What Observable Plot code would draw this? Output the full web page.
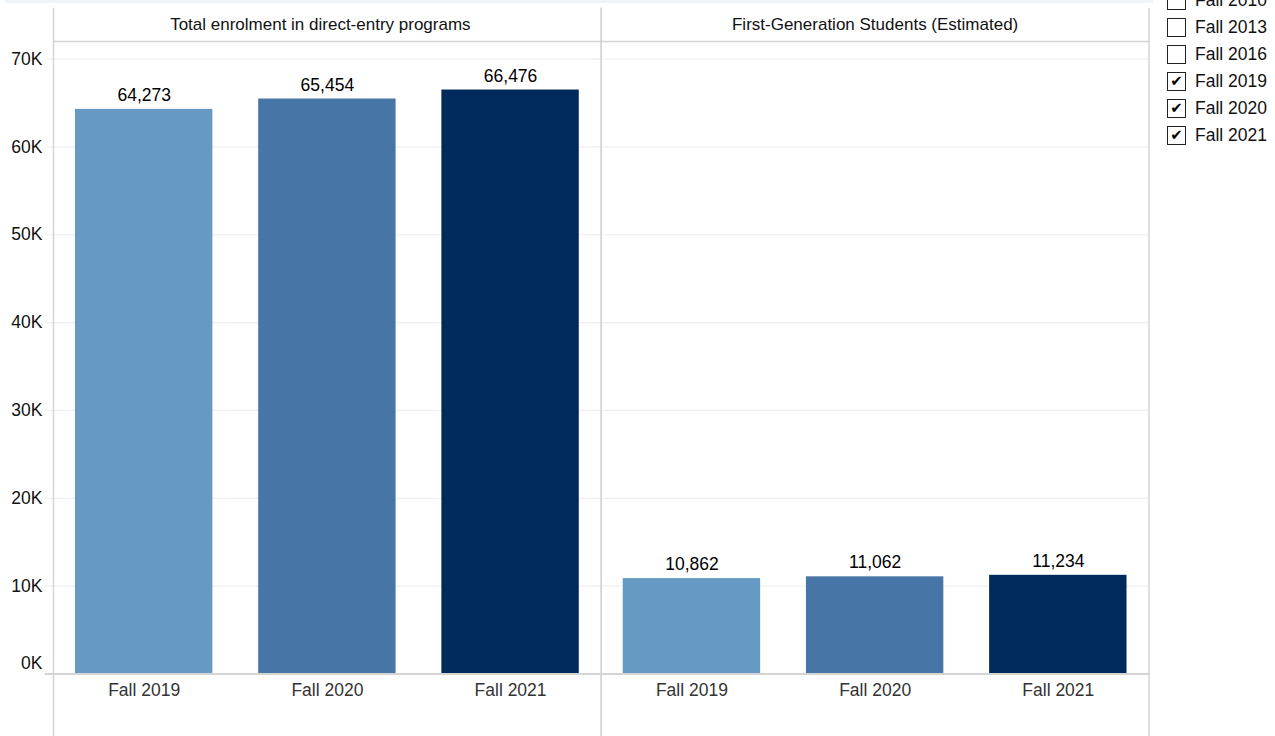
<!DOCTYPE html>
<html><head><meta charset="utf-8">
<script src="https://cdn.jsdelivr.net/npm/d3@7"></script>
<script src="https://cdn.jsdelivr.net/npm/@observablehq/plot@0.6"></script>
<style>
html,body{margin:0;padding:0;background:#fff;overflow:hidden}
body{font-family:"Liberation Sans",Arial,sans-serif}
#wrap{position:relative;width:1275px;height:736px;overflow:hidden}
#strip{position:absolute;left:5px;top:0;width:1148px;height:3px;background:#eef5f9}
#chart{position:absolute;left:0;top:0}
#legend{position:absolute;left:1167px;top:-13px}
.row{height:27px;display:flex;align-items:center;font-size:17.5px;color:#111}
.box{width:19px;height:19px;border:1.6px solid #222;box-sizing:border-box;margin-right:9px;display:flex;align-items:center;justify-content:center;font-size:15px;line-height:1;color:#000;font-family:"DejaVu Sans",sans-serif}
</style>
</head><body>
<div id="wrap"><div id="strip"></div><div id="chart"></div><div id="legend"></div></div>
<script>
const panels = ["Total enrolment in direct-entry programs", "First-Generation Students (Estimated)"];
const terms = ["Fall 2019", "Fall 2020", "Fall 2021"];
const totalEnrolment = [64273, 65454, 66476];
const firstGeneration = [10862, 11062, 11234];
const termColors = ["#6699c3", "#4775a6", "#002a5b"];
const yTicks = [0, 10000, 20000, 30000, 40000, 50000, 60000, 70000];
const legendTerms = ["Fall 2010", "Fall 2013", "Fall 2016", "Fall 2019", "Fall 2020", "Fall 2021"];
const legendChecked = [false, false, false, true, true, true];

const rows = [];
terms.forEach((t, i) => rows.push({panel: panels[0], term: t, value: totalEnrolment[i]}));
terms.forEach((t, i) => rows.push({panel: panels[1], term: t, value: firstGeneration[i]}));

const lineColor = "#d4d4d4";
const fmt = d3.format(",");
const headerStyle = {fx: d => d, text: d => d, frameAnchor: "top", lineAnchor: "bottom", dy: -12, fontSize: 17, fill: "#111"};

const chart = Plot.plot({
  width: 1150,
  height: 736,
  marginLeft: 53,
  marginRight: 1.5,
  marginTop: 41,
  marginBottom: 62.5,
  style: {fontFamily: '"Liberation Sans", Arial, sans-serif', fontSize: "17.5px", background: "transparent", overflow: "visible"},
  fx: {domain: panels, padding: 0, label: null, axis: null, round: false},
  x: {domain: terms, paddingInner: 0.25, paddingOuter: 0.12, label: null, axis: null, round: false},
  y: {domain: [0, 72000], label: null, axis: null},
  color: {domain: terms, range: termColors},
  marks: [
    Plot.ruleY(yTicks.slice(1), {stroke: "#efefef", strokeWidth: 1.2, insetLeft: -8}),
    Plot.barY(rows, {fx: "panel", x: "term", y: "value", fill: "term"}),
    Plot.text(rows, {fx: "panel", x: "term", y: "value", text: d => fmt(d.value), dy: -8.5, lineAnchor: "bottom", fontSize: 17.5, fill: "#000"}),
    Plot.frame({anchor: "top", stroke: lineColor, strokeWidth: 1.5}),
    Plot.frame({anchor: "bottom", stroke: lineColor, strokeWidth: 1.8, insetLeft: -8}),
    Plot.frame({anchor: "left", stroke: lineColor, strokeWidth: 1.5, insetTop: -33, insetBottom: -70}),
    Plot.frame({anchor: "right", stroke: lineColor, strokeWidth: 1.5, insetTop: -33, insetBottom: -70}),
    Plot.axisY(yTicks.slice(1), {tickSize: 0, tickPadding: 11, tickFormat: d => d / 1000 + "K", fontSize: 17.5, fill: "#111"}),
    Plot.axisY([0], {tickSize: 0, tickPadding: 11, tickFormat: d => d / 1000 + "K", fontSize: 17.5, fill: "#111", dy: -11}),
    Plot.text([panels[0]], {...headerStyle, dx: -7}),
    Plot.text([panels[1]], headerStyle),
    Plot.axisX({tickSize: 0, tickPadding: 9.5, fontSize: 17.5, fill: "#333", label: null})
  ]
});
document.getElementById("chart").appendChild(chart);

const legend = d3.select("#legend");
legendTerms.forEach((t, i) => {
  const r = legend.append("div").attr("class", "row");
  r.append("div").attr("class", "box").text(legendChecked[i] ? "\u2714" : "");
  r.append("span").text(t);
});
</script>
</body></html>
